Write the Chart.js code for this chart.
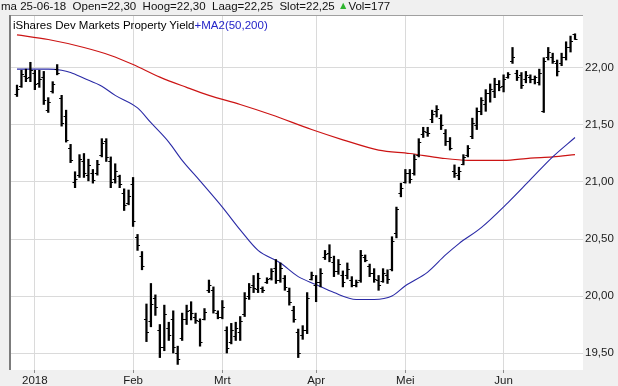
<!DOCTYPE html>
<html>
<head>
<meta charset="utf-8">
<script src="https://cdn.jsdelivr.net/npm/chart.js@4.4.1/dist/chart.umd.min.js"></script>
<style>
  html, body { margin: 0; padding: 0; background: #f0f0f0; }
  #wrap { position: relative; width: 618px; height: 386px; overflow: hidden;
          font-family: "Liberation Sans", Arial, sans-serif; }
  #chart { position: absolute; left: 0; top: 0; }
  #header { position: absolute; left: 1px; top: 0px; font-size: 11.5px; color: #111; white-space: pre; }
  #header b { font-weight: normal; color: #2fb52f; font-size: 10.5px; position: relative; top: -1px; }
  #legend { position: absolute; left: 13px; top: 19px; font-size: 11.5px; color: #000; white-space: nowrap; }
  #legend span { color: #2424c8; }
</style>
</head>
<body>
<div id="wrap">
  <canvas id="chart" width="618" height="386"></canvas>
  <div id="header">ma 25-06-18  Open=22,30  Hoog=22,30  Laag=22,25  Slot=22,25 <b>&#9650;</b>Vol=177</div>
  <div id="legend">iShares Dev Markets Property Yield<span>+MA2(50,200)</span></div>
</div>
<script>
// bar index of the first trading day of each month, and its label
const monthTicks = [4, 26, 46, 67, 87, 109];
const monthLabels = ['2018', 'Feb', 'Mrt', 'Apr', 'Mei', 'Jun'];
const yTicks = [19.5, 20, 20.5, 21, 21.5, 22];

// daily OHLC, 22-12-2017 .. 25-06-2018
const opens = [
  21.77,21.84,21.93,21.92,21.96,21.87,21.92,21.63,21.80,21.99,
  21.74,21.58,21.30,21.00,21.06,21.18,21.06,21.08,21.08,21.24,
  21.36,21.18,21.03,21.05,20.90,20.82,20.98,20.52,20.35,19.80,
  19.78,19.98,19.70,19.55,19.72,19.80,19.50,19.63,19.80,19.88,
  19.82,19.78,19.80,20.05,20.05,19.85,19.82,19.70,19.60,19.65,
  19.68,19.84,20.00,20.10,20.06,20.07,20.12,20.16,20.25,20.14,
  20.16,20.04,19.88,19.68,19.66,19.70,20.15,20.10,20.12,20.34,
  20.38,20.30,20.22,20.18,20.18,20.14,20.10,20.14,20.34,20.26,
  20.20,20.14,20.13,20.18,20.24,20.55,20.90,21.00,21.08,21.08,
  21.24,21.42,21.44,21.55,21.62,21.56,21.43,21.36,21.10,21.06,
  21.16,21.24,21.40,21.50,21.62,21.68,21.78,21.80,21.86,21.84,
  21.92,22.06,21.96,21.94,21.90,21.92,21.90,21.88,21.62,22.10,
  22.10,22.04,22.04,22.10,22.18,22.30
];
const highs = [
  21.85,21.98,21.99,22.05,21.98,21.98,21.97,21.74,21.88,22.03,
  21.76,21.63,21.33,21.09,21.24,21.25,21.20,21.11,21.19,21.38,
  21.38,21.22,21.16,21.06,20.94,20.93,21.04,20.54,20.39,19.93,
  20.11,20.01,19.75,19.92,19.77,19.87,19.56,19.85,19.92,19.95,
  19.85,19.80,19.89,20.14,20.08,19.87,19.96,19.73,19.76,19.77,
  19.82,20.03,20.11,20.18,20.20,20.08,20.16,20.24,20.32,20.29,
  20.18,20.07,19.91,19.71,19.74,20.03,20.21,20.18,20.24,20.40,
  20.45,20.35,20.32,20.22,20.29,20.17,20.14,20.40,20.36,20.28,
  20.24,20.18,20.24,20.23,20.52,20.78,20.99,21.11,21.11,21.24,
  21.38,21.48,21.48,21.63,21.67,21.59,21.46,21.39,21.15,21.13,
  21.24,21.32,21.56,21.65,21.74,21.81,21.86,21.91,21.89,21.94,
  21.96,22.18,21.98,21.96,21.97,21.94,21.93,21.99,22.09,22.18,
  22.13,22.07,22.13,22.23,22.28,22.30
];
const lows = [
  21.75,21.83,21.88,21.88,21.81,21.83,21.68,21.61,21.78,21.94,
  21.49,21.35,21.17,20.95,21.04,21.04,21.01,20.99,21.06,21.22,
  21.18,20.95,20.99,20.95,20.75,20.80,20.61,20.40,20.23,19.60,
  19.73,19.83,19.46,19.52,19.61,19.50,19.40,19.61,19.75,19.79,
  19.76,19.56,19.79,20.03,19.85,19.80,19.80,19.50,19.58,19.61,
  19.61,19.82,19.97,20.03,20.03,20.03,20.11,20.14,20.11,20.12,
  20.05,19.92,19.77,19.46,19.62,19.67,20.14,19.95,20.08,20.32,
  20.30,20.17,20.19,20.08,20.15,20.08,20.08,20.12,20.30,20.17,
  20.12,20.05,20.12,20.11,20.22,20.51,20.87,20.99,20.99,21.06,
  21.22,21.39,21.40,21.52,21.57,21.46,21.32,21.28,21.04,21.02,
  21.15,21.22,21.38,21.46,21.59,21.62,21.70,21.74,21.80,21.79,
  21.91,22.04,21.89,21.82,21.87,21.87,21.86,21.85,21.61,22.07,
  22.04,21.93,22.02,22.07,22.14,22.25
];
const closes = [
  21.82,21.95,21.91,21.98,21.86,21.90,21.72,21.70,21.86,21.96,
  21.52,21.37,21.19,21.03,21.20,21.08,21.15,21.02,21.16,21.34,
  21.22,21.00,21.10,20.98,20.80,20.88,20.66,20.45,20.26,19.68,
  19.93,19.90,19.55,19.84,19.66,19.55,19.45,19.80,19.87,19.85,
  19.79,19.60,19.86,20.10,19.88,19.82,19.90,19.54,19.70,19.72,
  19.78,19.98,20.08,20.07,20.16,20.05,20.15,20.22,20.14,20.25,
  20.08,19.95,19.80,19.50,19.70,19.98,20.18,20.12,20.20,20.37,
  20.34,20.22,20.28,20.12,20.24,20.10,20.12,20.36,20.32,20.20,
  20.15,20.10,20.20,20.15,20.48,20.76,20.95,21.08,21.03,21.20,
  21.35,21.45,21.43,21.60,21.64,21.50,21.36,21.30,21.08,21.10,
  21.22,21.30,21.52,21.62,21.72,21.78,21.82,21.86,21.83,21.90,
  21.95,22.10,21.92,21.85,21.94,21.90,21.92,21.96,22.06,22.14,
  22.06,21.97,22.10,22.18,22.24,22.25
];

// moving averages at these bar indices
const ma50Idx = [0,7,10,12,15,19,22,27,30,34,37,41,46,50,54,59,63,67,71,76,80,84,87,92,96,99,104,110,115,120,125];
const ma50 = [21.99,21.99,21.98,21.96,21.91,21.84,21.76,21.65,21.52,21.35,21.19,21.01,20.78,20.58,20.40,20.29,20.17,20.10,20.03,19.97,19.97,20.00,20.09,20.21,20.36,20.46,20.60,20.82,21.02,21.22,21.39];
const ma200Idx = [0,7,15,21,26,32,38,43,50,57,66,73,81,88,95,101,109,115,120,125];
const ma200 = [22.29,22.25,22.18,22.11,22.03,21.92,21.83,21.76,21.68,21.59,21.46,21.37,21.28,21.25,21.21,21.19,21.19,21.21,21.22,21.24];

Chart.defaults.font.family = '"Liberation Sans", Arial, sans-serif';
Chart.defaults.font.size = 11.5;
Chart.defaults.color = '#1a1a1a';

const frame = {
  id: 'frame',
  beforeDraw(chart) {
    const { ctx, chartArea: a } = chart;
    ctx.save();
    ctx.fillStyle = '#ffffff';
    ctx.fillRect(a.left, a.top, a.right - a.left, a.bottom - a.top);
    ctx.restore();
  },
  afterDraw(chart) {
    const { ctx, chartArea: a } = chart;
    ctx.save();
    ctx.fillStyle = '#a0a0a0';
    ctx.fillRect(a.left, a.top - 1, a.right - a.left, 1);
    ctx.fillStyle = '#7c7c7c';
    ctx.fillRect(a.left - 2, a.top - 1, 2, a.bottom - a.top + 1);
    ctx.restore();
  }
};

// open tick to the left, close tick to the right
const ohlcTicks = {
  id: 'ohlcTicks',
  afterDatasetsDraw(chart) {
    const { ctx } = chart;
    const xs = chart.scales.x, ys = chart.scales.y;
    ctx.save();
    ctx.strokeStyle = '#000';
    ctx.lineWidth = 1;
    ctx.beginPath();
    opens.forEach((o, i) => {
      const x = xs.getPixelForValue(i);
      const yo = Math.round(ys.getPixelForValue(o)) + 0.5;
      const yc = Math.round(ys.getPixelForValue(closes[i])) + 0.5;
      ctx.moveTo(x - 2.5, yo); ctx.lineTo(x, yo);
      ctx.moveTo(x, yc); ctx.lineTo(x + 2.5, yc);
    });
    ctx.stroke();
    ctx.restore();
  }
};

new Chart(document.getElementById('chart'), {
  type: 'bar',
  data: {
    datasets: [
      {
        type: 'line',
        data: ma200Idx.map((x, k) => ({ x: x, y: ma200[k] })),
        borderColor: '#cc1414',
        borderWidth: 1.2,
        pointRadius: 0,
        cubicInterpolationMode: 'monotone',
        order: 3
      },
      {
        type: 'line',
        data: ma50Idx.map((x, k) => ({ x: x, y: ma50[k] })),
        borderColor: '#2a2aa6',
        borderWidth: 1.1,
        pointRadius: 0,
        cubicInterpolationMode: 'monotone',
        order: 2
      },
      {
        type: 'bar',
        data: highs.map((h, i) => ({ x: i, y: [lows[i], h] })),
        backgroundColor: '#000',
        borderWidth: 0,
        barThickness: 1.6,
        order: 1
      }
    ]
  },
  options: {
    responsive: false,
    animation: false,
    layout: { padding: { left: 11, top: 16, right: 0, bottom: 0 } },
    plugins: { legend: { display: false }, tooltip: { enabled: false } },
    scales: {
      x: {
        type: 'linear',
        offset: false,
        min: -1.344,
        max: 126.79,
        afterBuildTicks: (s) => { s.ticks = monthTicks.map(v => ({ value: v })); },
        afterFit: (s) => { s.height = 16; },
        ticks: {
          autoSkip: false, maxRotation: 0, padding: 1,
          callback: (v, i) => monthLabels[i]
        },
        grid: { offset: false, color: '#dadada', tickLength: 3, tickColor: '#8a8a8a' },
        border: { display: false }
      },
      y: {
        position: 'right',
        min: 19.351,
        max: 22.456,
        afterBuildTicks: (s) => { s.ticks = yTicks.map(v => ({ value: v })); },
        afterFit: (s) => { s.width = 35; },
        ticks: {
          padding: 2,
          callback: (v) => v.toFixed(2).replace('.', ',')
        },
        grid: { color: '#dadada', drawTicks: false },
        border: { display: false }
      }
    }
  },
  plugins: [frame, ohlcTicks]
});
</script>
</body>
</html>
